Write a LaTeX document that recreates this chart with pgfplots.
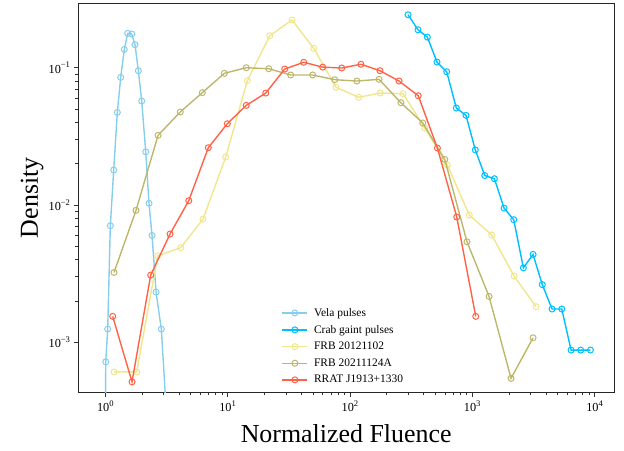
\documentclass[border=0pt]{standalone}
\usepackage{fontspec}
\setmainfont{Liberation Serif}
\usepackage{pgfplots}
\pgfplotsset{compat=1.18}
\definecolor{vela}{HTML}{87CEEB}
\definecolor{crab}{HTML}{00BFFF}
\definecolor{frba}{HTML}{F0E68C}
\definecolor{frbb}{HTML}{BDB76B}
\definecolor{rrat}{HTML}{FF6347}
\newcommand{\logexp}{\pgfmathtruncatemacro\e{round(\tick/ln(10))}10\raisebox{0.42em}{\fontsize{8.6}{9}\selectfont\ifnum\e<0 −\the\numexpr-\e\relax\else\e\fi}}
\begin{document}
\begin{tikzpicture}
\begin{axis}[
  scale only axis,
  width=536.3bp, height=389.7bp,
  xmode=log, ymode=log,
  xmin=0.598, xmax=14500,
  ymin=4.3e-4, ymax=0.296,
  axis line style={black!85, line width=0.8bp},
  tick align=outside,
  tick pos=left,
  major tick length=4.5bp,
  minor tick length=2.6bp,
  every tick/.style={black!80, line width=0.7bp},
  xtick={1,10,100,1000,10000},
  ytick={0.001,0.01,0.1},
  xticklabel={\logexp},
  yticklabel={\logexp},
  tick label style={font=\fontsize{12.3}{14}\selectfont},
  xlabel={Normalized Fluence},
  ylabel={Density},
  label style={font=\fontsize{26}{30}\selectfont},
  xlabel style={at={(axis description cs:0.5,-0.129)}, anchor=base},
  ylabel style={at={(axis description cs:-0.0746,0.5)}, anchor=base, rotate=0},
  clip mode=individual,
  every axis plot/.append style={line width=1.4bp, mark=o, mark size=3bp, mark options={fill=white, line width=1bp}},
  legend style={draw=none, fill=none, at={(axis description cs:0.3776,0.225)}, anchor=north west,
    font=\fontsize{11.5}{13}\selectfont, row sep=3.5bp, inner sep=1bp},
  legend cell align=left,
  legend image code/.code={\draw[mark repeat=2, mark phase=2] plot coordinates {(0bp,0bp) (12.5bp,0bp) (25bp,0bp)}; \path (29bp,0bp);},
]
\addplot[vela] coordinates {
(1.0,1e-4) (1.008,7.22e-4) (1.046,1.25e-3) (1.099,7.07e-3) (1.171,0.018) (1.254,0.0473)
(1.336,0.0851) (1.43,0.136) (1.524,0.178) (1.644,0.176) (1.75,0.147) (1.862,0.0951)
(1.985,0.0572) (2.14,0.0244) (2.276,0.0103) (2.41,6.0e-3) (2.6,2.32e-3) (2.87,1.25e-3)
(3.41,1e-4)
};
\addlegendentry{Vela pulses}
\addplot[crab] coordinates {
(298.5,0.243) (360,0.189) (429.5,0.167) (515,0.110) (618,0.0935) (741,0.0509)
(889,0.0450) (1059,0.0252) (1265,0.0164) (1517,0.01555) (1820,0.0095) (2183,0.00782)
(2618,0.00349) (3141,0.00437) (3741,0.00263) (4490,0.00175) (5395,0.00175)
(6425,8.79e-4) (7709,8.79e-4) (9247,8.79e-4)
};
\addlegendentry{Crab gaint pulses}
\addplot[frba] coordinates {
(1.178,6.1e-4) (1.806,6.1e-4) (2.682,4.27e-3) (4.136,4.89e-3) (6.29,7.9e-3) (9.65,0.0224)
(14.5,0.0804) (22.1,0.171) (33.6,0.2226) (50.6,0.1384) (76.9,0.072) (118,0.0609)
(177,0.0654) (272,0.0647) (409,0.0364) (626,0.01956) (946,8.46e-3) (1443,6.05e-3)
(2197,3.04e-3) (3323,1.82e-3)
};
\addlegendentry{FRB 20121102}
\addplot[frbb] coordinates {
(1.178,3.23e-3) (1.782,9.15e-3) (2.70,0.0322) (4.10,0.0476) (6.21,0.0658) (9.40,0.091)
(14.2,0.100) (21.7,0.0983) (32.8,0.0885) (49.6,0.0885) (75.1,0.0818) (114,0.080)
(173,0.0823) (261,0.0556) (394,0.0396) (596,0.0215) (906,5.4e-3) (1372,2.16e-3)
(2075,5.47e-4) (3141,1.08e-3)
};
\addlegendentry{FRB 20211124A}
\addplot[rrat] coordinates {
(1.149,1.546e-3) (1.653,5.16e-4) (2.35,3.09e-3) (3.38,6.15e-3) (4.81,0.01075) (6.95,0.02615)
(9.94,0.0391) (14.2,0.0532) (20.5,0.0654) (29.3,0.0978) (41.9,0.1095) (59.9,0.101)
(85.7,0.0995) (123,0.106) (176,0.0951) (252,0.080) (362,0.0625) (519,0.026)
(747,8.18e-3) (1068,1.546e-3)
};
\addlegendentry{RRAT J1913+1330}
\end{axis}
\path ([xshift=-78bp,yshift=-58.3bp]current axis.south west) rectangle ([xshift=9.7bp,yshift=3bp]current axis.north east);
\end{tikzpicture}
\end{document}
